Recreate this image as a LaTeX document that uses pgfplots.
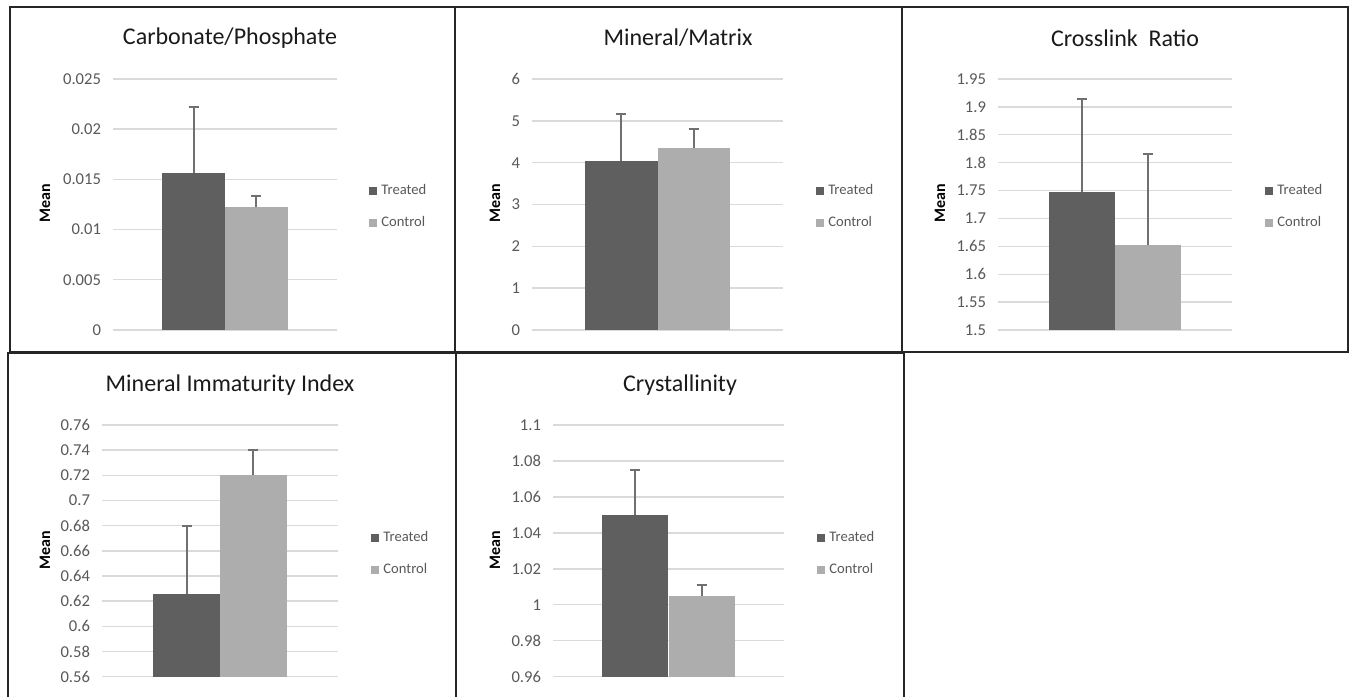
\documentclass[border=0pt]{standalone}
\usepackage{pgfplots}
\pgfplotsset{compat=1.18}
\usepackage{fontspec}
\setmainfont{Carlito}
\definecolor{treated}{HTML}{5F5F5F}
\definecolor{control}{HTML}{ADADAD}
\definecolor{gridc}{HTML}{DADADA}
\definecolor{ticktxt}{HTML}{595959}
\definecolor{errc}{HTML}{707070}
\definecolor{framec}{HTML}{262626}
\definecolor{titlec}{HTML}{1A1A1A}

\pgfplotsset{
  panel/.style={
    scale only axis, xmin=-1, xmax=1,
    axis line style={draw=none},
    xtick=\empty, scaled y ticks=false,
    ymajorgrids, major grid style={gridc, line width=0.7pt},
    major tick length=0pt,
    yticklabel style={font=\fontsize{8.3}{10}\selectfont, text=ticktxt, xshift=-2.5pt},
    legend cell align=left,
    legend image code/.code={\fill[##1] (0pt,-2pt) rectangle (4pt,2pt);},
    legend style={draw=none, fill=none, anchor=west, inner sep=0pt,
      font=\fontsize{7.3}{8}\selectfont, text=ticktxt, row sep=5.5pt},
  },
  bw/.style={ybar, bar width=#1, bar shift=0pt, draw=none,
    error bars/y dir=plus, error bars/y explicit,
    error bars/error bar style={errc, line width=1pt},
    error bars/error mark options={errc, line width=1pt, mark size=2.5pt, rotate=90}},
}

\begin{document}
\begin{tikzpicture}
\path[use as bounding box] (0,0) rectangle (676pt,348pt);
\fill[white] (0,0) rectangle (676pt,348pt);

% frames
\draw[framec, line width=1pt] (5pt,172pt) rectangle (674pt,344.5pt);
\draw[framec, line width=1pt] (227.5pt,172pt) -- (227.5pt,344.5pt);
\draw[framec, line width=1pt] (451pt,172pt) -- (451pt,344.5pt);
\draw[framec, line width=1pt] (4pt,-2pt) -- (4pt,171.5pt) -- (452pt,171.5pt) -- (452pt,-2pt);
\draw[framec, line width=1pt] (228pt,-2pt) -- (228pt,171.5pt);

% ---------- Panel 1: Carbonate/Phosphate
\begin{axis}[panel, at={(56.5pt,183pt)}, anchor=south west, width=112pt, height=125.5pt,
  ymin=0, ymax=0.025, ytick={0,0.005,0.01,0.015,0.02,0.025},
  yticklabels={0,0.005,0.01,0.015,0.02,0.025},
  legend style={at={(1.143,0.490)}}]
\addplot[bw=0.56, fill=treated] coordinates {(-0.28,0.0156) +- (0,0.0066)};
\addlegendentry{Treated}
\addplot[bw=0.56, fill=control] coordinates {(0.28,0.0123) +- (0,0.0010)};
\addlegendentry{Control}
\end{axis}
\node[font=\fontsize{12}{14}\selectfont, text=titlec] at (115pt,329pt) {Carbonate/Phosphate};
\node[font=\fontsize{8}{10}\selectfont\bfseries, rotate=90] at (22.5pt,246.5pt) {Mean};

% ---------- Panel 2: Mineral/Matrix
\begin{axis}[panel, at={(266pt,183pt)}, anchor=south west, width=125.5pt, height=125.5pt,
  ymin=0, ymax=6, ytick={0,1,2,3,4,5,6},
  yticklabels={0,1,2,3,4,5,6},
  legend style={at={(1.131,0.490)}}]
\addplot[bw=0.574, fill=treated] coordinates {(-0.287,4.05) +- (0,1.12)};
\addlegendentry{Treated}
\addplot[bw=0.574, fill=control] coordinates {(0.287,4.35) +- (0,0.45)};
\addlegendentry{Control}
\end{axis}
\node[font=\fontsize{12}{14}\selectfont, text=titlec] at (339pt,329pt) {Mineral/Matrix};
\node[font=\fontsize{8}{10}\selectfont\bfseries, rotate=90] at (247.5pt,246.5pt) {Mean};

% ---------- Panel 3: Crosslink Ratio
\begin{axis}[panel, at={(499pt,183pt)}, anchor=south west, width=117pt, height=125.5pt,
  ymin=1.5, ymax=1.95, ytick={1.5,1.55,1.6,1.65,1.7,1.75,1.8,1.85,1.9,1.95},
  yticklabels={1.5,1.55,1.6,1.65,1.7,1.75,1.8,1.85,1.9,1.95},
  legend style={at={(1.141,0.490)}}]
\addplot[bw=0.568, fill=treated] coordinates {(-0.284,1.747) +- (0,0.168)};
\addlegendentry{Treated}
\addplot[bw=0.568, fill=control] coordinates {(0.284,1.652) +- (0,0.163)};
\addlegendentry{Control}
\end{axis}
\node[font=\fontsize{12}{14}\selectfont, text=titlec] at (562.5pt,329pt) {Crosslink\ \ Ratio};
\node[font=\fontsize{8}{10}\selectfont\bfseries, rotate=90] at (470pt,246.5pt) {Mean};

% ---------- Panel 4: Mineral Immaturity Index
\begin{axis}[panel, at={(51pt,9.65pt)}, anchor=south west, width=118pt, height=125.85pt,
  ymin=0.56, ymax=0.76, ytick={0.56,0.58,0.6,0.62,0.64,0.66,0.68,0.7,0.72,0.74,0.76},
  yticklabels={0.56,0.58,0.6,0.62,0.64,0.66,0.68,0.7,0.72,0.74,0.76},
  legend style={at={(1.140,0.487)}}]
\addplot[bw=0.565, fill=treated] coordinates {(-0.282,0.626) +- (0,0.054)};
\addlegendentry{Treated}
\addplot[bw=0.565, fill=control] coordinates {(0.282,0.720) +- (0,0.020)};
\addlegendentry{Control}
\end{axis}
\node[font=\fontsize{12}{14}\selectfont, text=titlec] at (115pt,155.5pt) {Mineral Immaturity Index};
\node[font=\fontsize{8}{10}\selectfont\bfseries, rotate=90] at (22.5pt,73pt) {Mean};

% ---------- Panel 5: Crystallinity
\begin{axis}[panel, at={(276.5pt,9.65pt)}, anchor=south west, width=115.5pt, height=125.85pt,
  ymin=0.96, ymax=1.1, ytick={0.96,0.98,1,1.02,1.04,1.06,1.08,1.1},
  yticklabels={0.96,0.98,1,1.02,1.04,1.06,1.08,1.1},
  legend style={at={(1.143,0.487)}}]
\addplot[bw=0.573, fill=treated] coordinates {(-0.287,1.050) +- (0,0.025)};
\addlegendentry{Treated}
\addplot[bw=0.573, fill=control] coordinates {(0.287,1.005) +- (0,0.006)};
\addlegendentry{Control}
\end{axis}
\node[font=\fontsize{12}{14}\selectfont, text=titlec] at (340pt,155.5pt) {Crystallinity};
\node[font=\fontsize{8}{10}\selectfont\bfseries, rotate=90] at (247.5pt,73pt) {Mean};
\end{tikzpicture}
\end{document}
